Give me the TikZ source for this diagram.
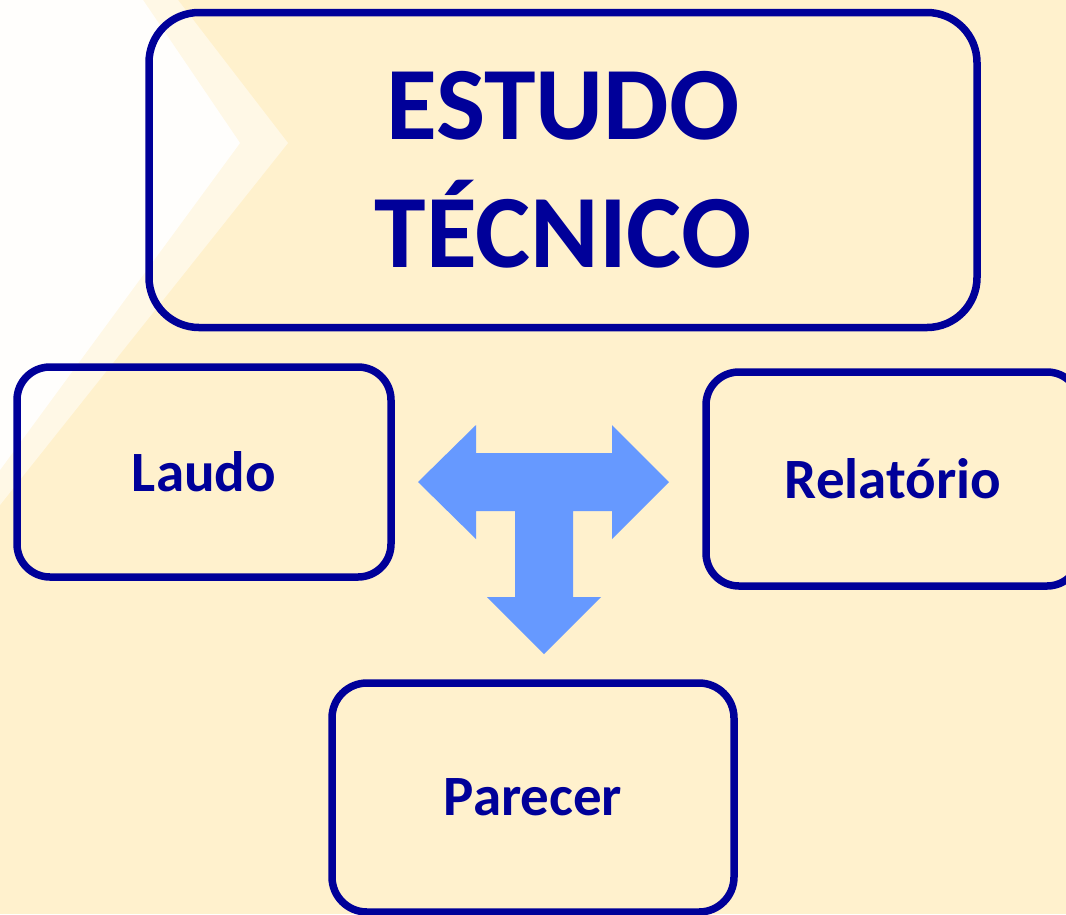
\documentclass[tikz,border=0pt]{standalone}
\usepackage{fontspec}
\setmainfont{Carlito}
\definecolor{bgc}{HTML}{FFF1CD}
\definecolor{navy}{HTML}{000099}
\definecolor{arrowblue}{HTML}{6699FF}
\begin{document}
\begin{tikzpicture}[x=1pt,y=-1pt,
  box/.style={draw=navy, line width=7.5pt, rectangle, text=navy, font=\bfseries\fontsize{57}{68}\selectfont, inner sep=0pt},
]
\useasboundingbox (0,0) rectangle (1066,914);
\fill[bgc] (0,0) rectangle (1066,914);
% light chevron in the background
\fill[white, opacity=0.5] (0,0) -- (178,0) -- (288,143) -- (0,505) -- cycle;
\fill[white, opacity=0.9] (0,0) -- (143,0) -- (240,143) -- (0,470) -- cycle;
% boxes
\node[box, rounded corners=50pt, minimum width=828pt, minimum height=315pt, align=center,
      font=\bfseries\fontsize{104}{128}\selectfont] (estudo) at (563,170) {ESTUDO\\TÉCNICO};
\node[box, rounded corners=33pt, minimum width=374pt, minimum height=210pt] (laudo) at (204,472) {Laudo};
\node[box, rounded corners=33pt, minimum width=374pt, minimum height=214pt] (relatorio) at (893,479) {Relatório};
\node[box, rounded corners=35pt, minimum width=402pt, minimum height=229pt] (parecer) at (533,797.5) {Parecer};
% T-shaped three-way arrow
\coordinate (hub) at (544,482);
\fill[arrowblue] (418,482) -- (476,425) -- (476,453) -- (612,453) -- (612,425) -- (669,482)
  -- (612,539) -- (612,511) -- (573,511) -- (573,597) -- (601,597) -- (544,654)
  -- (487,597) -- (515,597) -- (515,511) -- (476,511) -- (476,539) -- cycle;
\end{tikzpicture}
\end{document}
